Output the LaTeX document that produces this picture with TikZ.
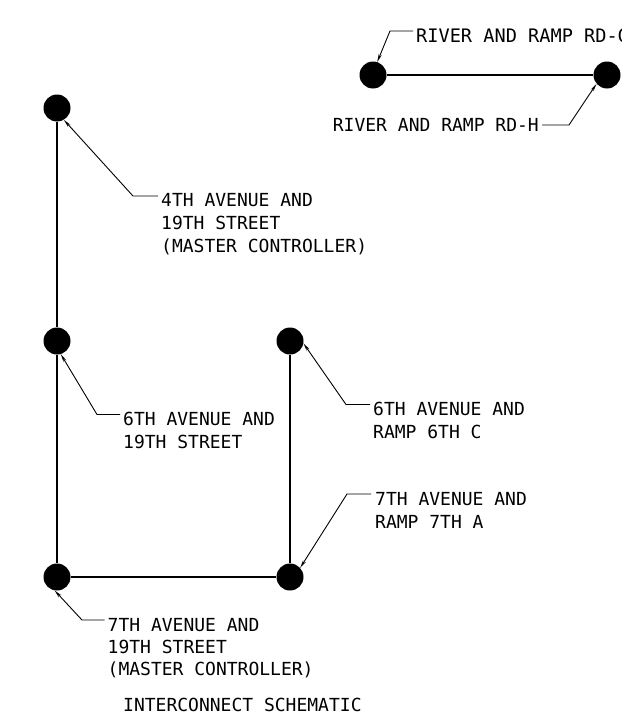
\documentclass[tikz,border=0pt]{standalone}
\usepackage{fontspec}
\setmonofont{DejaVu Sans Mono}
\usetikzlibrary{arrows.meta}
\tikzset{
  dot/.style={circle,fill=black,draw=none,minimum size=27pt,inner sep=0pt},
  wire/.style={line width=1.2pt},
  leader/.style={line width=0.9pt,-{Stealth[length=8pt,width=3.2pt]}},
  lbl/.style={font=\ttfamily\fontsize{18}{23}\selectfont,align=left,inner sep=0pt,anchor=north west},
}
\begin{document}
\begin{tikzpicture}[x=1pt,y=-1pt]
\useasboundingbox (0,0) rectangle (621,720);
\clip (0,0) rectangle (621,720);
% dots
\node[dot] (rg) at (373,75) {};
\node[dot] (rh) at (607,75) {};
\node[dot] (a4) at (57,108) {};
\node[dot] (a6) at (57,341) {};
\node[dot] (r6) at (290,341) {};
\node[dot] (a7) at (57,577) {};
\node[dot] (r7) at (290,577) {};
% interconnect wires
\draw[wire] (rg) -- (rh);
\draw[wire] (a4) -- (a6);
\draw[wire] (a6) -- (a7);
\draw[wire] (a7) -- (r7);
\draw[wire] (r7) -- (r6);
% labels
\node[lbl,font=\ttfamily\fontsize{18.6}{23}\selectfont] (lrg) at (416,28) {RIVER AND RAMP RD-G};
\node[lbl,anchor=north east] (lrh) at (539,118.3) {RIVER AND RAMP RD-H};
\node[lbl] (la4) at (161,192.7) {4TH AVENUE AND\\19TH STREET\\(MASTER CONTROLLER)};
\node[lbl] (la6) at (123,411.7) {6TH AVENUE AND\\19TH STREET};
\node[lbl] (lr6) at (373,401.7) {6TH AVENUE AND\\RAMP 6TH C};
\node[lbl] (lr7) at (375,491.7) {7TH AVENUE AND\\RAMP 7TH A};
\node[lbl,font=\ttfamily\fontsize{18}{22.4}\selectfont] (la7) at (107.5,617.7) {7TH AVENUE AND\\19TH STREET\\(MASTER CONTROLLER)};
\node[lbl] (title) at (123,698.3) {INTERCONNECT SCHEMATIC};
% leader elbows
\coordinate (erg) at (390,31);
\coordinate (erh) at (569,125);
\coordinate (ea4) at (133,196);
\coordinate (ea6) at (97,414.5);
\coordinate (er6) at (346,404.5);
\coordinate (er7) at (347,494);
\coordinate (ea7) at (82,620);
% leaders
\draw[leader] (lrg.west |- erg) ++(-3,0) -- (erg) -- (rg.72);
\draw[leader] (lrh.east |- erh) ++(3,0) -- (erh) -- (rh.-140);
\draw[leader] (la4.west |- ea4) ++(-3,0) -- (ea4) -- (a4.-60);
\draw[leader] (la6.west |- ea6) ++(-3,0) -- (ea6) -- (a6.-74);
\draw[leader] (lr6.west |- er6) ++(-3,0) -- (er6) -- (r6.-10);
\draw[leader] (lr7.west |- er7) ++(-4,0) -- (er7) -- (r7.42);
\draw[leader] (la7.west |- ea7) ++(-3,0) -- (ea7) -- (a7.-100);
\end{tikzpicture}
\end{document}
